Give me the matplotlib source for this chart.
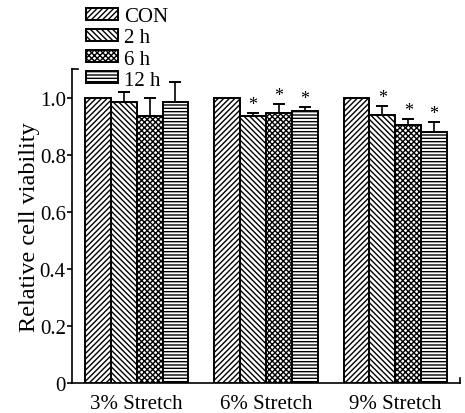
import matplotlib
matplotlib.use('Agg')
import matplotlib.pyplot as plt
import numpy as np

plt.rcParams['font.family'] = ['Liberation Serif', 'DejaVu Serif']
plt.rcParams['hatch.linewidth'] = 1.0

# data
groups = ['3% Stretch', '6% Stretch', '9% Stretch']
series = ['CON', '2 h', '6 h', '12 h']
con = [1.0, 1.0, 1.0]
h2 = [0.983, 0.935, 0.937]
h6 = [0.935, 0.945, 0.902]
h12 = [0.983, 0.953, 0.880]
con_err = [0.0, 0.0, 0.0]
h2_err = [0.035, 0.011, 0.034]
h6_err = [0.062, 0.033, 0.021]
h12_err = [0.073, 0.014, 0.035]
h2_sig = [False, True, True]
h6_sig = [False, True, True]
h12_sig = [False, True, True]

values = [con, h2, h6, h12]
errors = [con_err, h2_err, h6_err, h12_err]
signif = [[False] * 3, h2_sig, h6_sig, h12_sig]
hatches = ['//////', '\\\\\\\\\\\\', 'xxxxxx', '-----']

fig = plt.figure(figsize=(4.65, 4.14), dpi=100)
ax = fig.add_axes([0.155, 0.0725, 0.834, 0.7585])

x = np.arange(len(groups))
width = 0.2
for i, (vals, errs, sig, h, name) in enumerate(zip(values, errors, signif, hatches, series)):
    pos = x - 0.3 + i * width
    ax.bar(pos, vals, width, color='white', edgecolor='black', linewidth=1.4,
           hatch=h, label=name)
    for p, v, e, s in zip(pos, vals, errs, sig):
        if e > 0:
            ax.errorbar(p, v, yerr=[[0], [e]], fmt='none', ecolor='black',
                        elinewidth=1.2, capsize=4, capthick=1.4)
        if s:
            ax.text(p, v + e, '*', ha='center', va='bottom', fontsize=13)

ax.set_xlim(-0.5, 2.5)
ax.set_ylim(0, 1.1)
ax.set_yticks([0, 0.2, 0.4, 0.6, 0.8, 1.0])
ax.set_yticklabels(['0', '0.2', '0.4', '0.6', '0.8', '1.0'])
ax.set_xticks(x)
ax.set_xticklabels(groups)
ax.tick_params(axis='x', length=0, pad=8, labelsize=15)
ax.tick_params(axis='y', direction='out', length=3.5, width=1.2, pad=1, labelsize=15)
ax.spines['top'].set_visible(False)
ax.spines['right'].set_visible(False)
ax.spines['left'].set_linewidth(1.2)
ax.spines['bottom'].set_linewidth(1.2)
# small end ticks at the axis ends
ax.axvline(2.5, ymin=0, ymax=0.015, color='black', linewidth=1.2, clip_on=False)
ax.axhline(1.1, xmin=0, xmax=0.015, color='black', linewidth=1.2, clip_on=False)
ax.set_ylabel('Relative cell viability', fontsize=17.5, labelpad=0)

fig.legend(loc='upper left', bbox_to_anchor=(0.153, 1.015), frameon=False,
           fontsize=15, handlelength=1.54, handleheight=0.48,
           labelspacing=0.1, handletextpad=0.3, borderpad=0.2)

fig.savefig('out.png', dpi=100)
